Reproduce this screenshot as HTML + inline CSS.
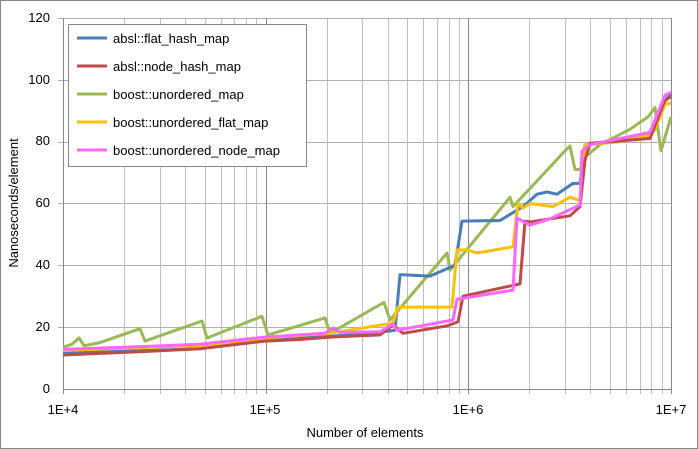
<!DOCTYPE html>
<html><head><meta charset="utf-8"><style>
body{margin:0;background:#fff;}
svg{display:block;font-family:"Liberation Sans",sans-serif;}
</style></head><body>
<svg id="s" width="698" height="449" xmlns="http://www.w3.org/2000/svg">
<rect x="0.5" y="0.5" width="697" height="448" fill="#fff" stroke="#888"/>
<g id="grid"></g>
<g id="lines" fill="none" stroke-width="3" stroke-linejoin="round"></g>
<g font-size="13" fill="#000">
<text x="50" y="393" text-anchor="end">0</text>
<text x="50" y="331" text-anchor="end">20</text>
<text x="50" y="269" text-anchor="end">40</text>
<text x="50" y="207" text-anchor="end">60</text>
<text x="50" y="145" text-anchor="end">80</text>
<text x="50" y="84" text-anchor="end">100</text>
<text x="50" y="22" text-anchor="end">120</text>
<text x="63" y="414" text-anchor="middle">1E+4</text>
<text x="265" y="414" text-anchor="middle">1E+5</text>
<text x="468" y="414" text-anchor="middle">1E+6</text>
<text x="671" y="414" text-anchor="middle">1E+7</text>
<text x="365" y="437" text-anchor="middle">Number of elements</text>
<text transform="translate(18,203) rotate(-90)" text-anchor="middle">Nanoseconds/element</text>
</g>
<rect x="68.5" y="24.5" width="238" height="142" fill="#fff" stroke="#888"/>
<g font-size="13">
<line x1="77" y1="38" x2="107" y2="38" stroke="#4a7ebb" stroke-width="3"/><text x="113" y="43">absl::flat_hash_map</text>
<line x1="77" y1="66" x2="107" y2="66" stroke="#be4b48" stroke-width="3"/><text x="113" y="71">absl::node_hash_map</text>
<line x1="77" y1="94" x2="107" y2="94" stroke="#98b954" stroke-width="3"/><text x="113" y="99">boost::unordered_map</text>
<line x1="77" y1="122" x2="107" y2="122" stroke="#ffc000" stroke-width="3"/><text x="113" y="127">boost::unordered_flat_map</text>
<line x1="77" y1="150" x2="107" y2="150" stroke="#ff66ff" stroke-width="3"/><text x="113" y="155">boost::unordered_node_map</text>
</g>
</svg>
<script>
var NS="http://www.w3.org/2000/svg";
var g=document.getElementById('grid'),L=document.getElementById('lines');
function ln(x1,y1,x2,y2,c){var e=document.createElementNS(NS,'line');e.setAttribute('x1',x1);e.setAttribute('y1',y1);e.setAttribute('x2',x2);e.setAttribute('y2',y2);e.setAttribute('stroke',c);g.appendChild(e);}
var x0=63,dec=202.67;
for(var d=0;d<3;d++)for(var k=2;k<10;k++){var x=Math.round(x0+dec*(d+Math.log10(k)))+.5;ln(x,18,x,394,'#c0c0c0');}
for(var v=20;v<=120;v+=20){var y=Math.round(389-v*3.092)+.5;ln(58,y,671,y,'#b0b0b0');}
for(var d=0;d<4;d++){var x=Math.round(x0+dec*d)+.5;ln(x,18,x,394,'#888');}
ln(63.5,389.5,671,389.5,'#888');
function Y(v){return 389-v*3.092;}
function poly(pts,c){var e=document.createElementNS(NS,'polyline');e.setAttribute('points',pts.map(p=>p[0]+','+Y(p[1]).toFixed(1)).join(' '));e.setAttribute('stroke',c);L.appendChild(e);}
poly([[63,13.5],[72,14.5],[79,16.5],[84,14],[100,15],[140,19.5],[145,15.5],[202,22],[207,16.5],[262,23.5],[268,17.5],[325,23],[330,18],[384,28],[390,22.3],[447,44],[450,38.5],[510,62],[513,59],[565,77],[570,78.6],[575,71],[580,71],[585,75],[600,79],[630,84],[648,88],[655,91],[661,77],[671,88]],'#98b954');
poly([[63,11.5],[100,12],[150,12.5],[200,13],[265,16],[300,16.5],[330,17],[370,18],[395,19],[400,37],[430,36.5],[455,40],[462,54.3],[500,54.5],[523,59],[537,63],[547,63.7],[557,63],[573,66.5],[580,66.5],[585,79],[620,80],[650,83],[665,93],[671,95.7]],'#4a7ebb');
poly([[63,12.5],[150,13.5],[200,14],[265,16.5],[330,18],[393,21.3],[398,26.5],[452,26.5],[457,45],[467,45],[477,44],[513,46],[518,60],[523,58.5],[530,60],[553,59],[570,62],[580,61],[585,79],[620,80],[650,82],[655,84],[665,92],[671,92.5]],'#ffc000');
poly([[63,11],[100,11.5],[150,12.2],[200,13],[265,15.5],[300,16],[330,16.8],[380,17.5],[393,20.7],[403,18],[447,20.4],[458,21.7],[463,30],[520,34],[525,54.3],[530,54],[570,56],[580,59],[585,74],[590,79.5],[650,81],[665,93.5],[671,94.5]],'#be4b48');
poly([[63,12.8],[150,13.8],[200,14.5],[265,16.8],[300,17.5],[325,18],[333,19.7],[340,18.3],[380,18.5],[393,21],[397,19],[453,22.3],[457,29],[513,32],[517,55.3],[530,53],[550,55],[580,59.5],[582,77],[590,79],[650,83],[665,95],[671,96]],'#ff66ff');
</script>
</body></html>
